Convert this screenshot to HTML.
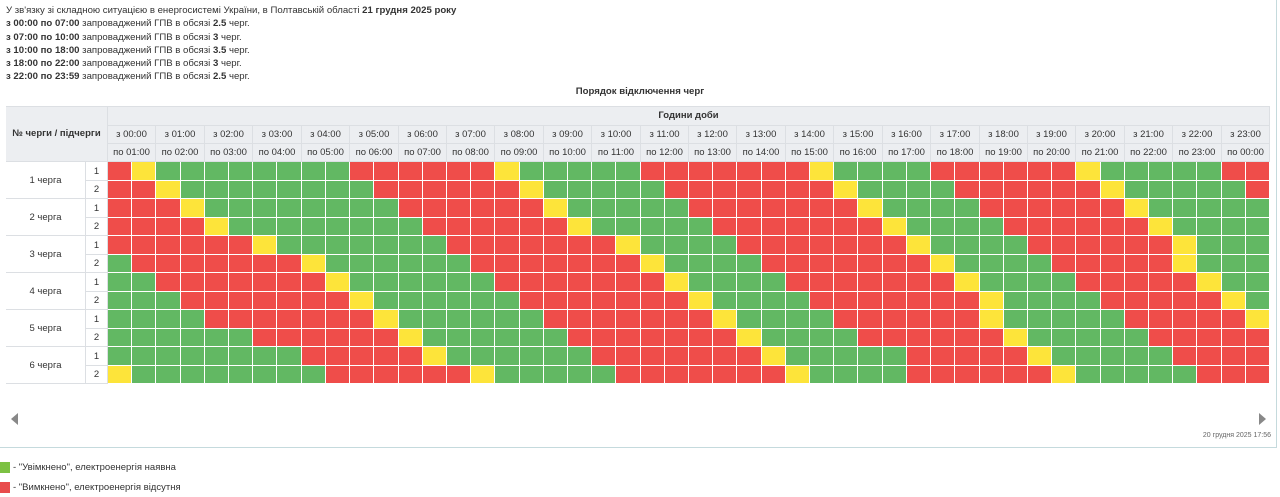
<!DOCTYPE html>
<html><head><meta charset="utf-8">
<style>
*{margin:0;padding:0;box-sizing:border-box}
body{width:1280px;height:497px;background:#fff;font-family:"Liberation Sans","DejaVu Sans",sans-serif;color:#333;position:relative;overflow:hidden}
.t{position:absolute;font-size:9.6px;white-space:nowrap;line-height:12px}
.a{position:absolute}
.hc{position:absolute;background:#eceef1;border-right:1px solid #dcdfe3;border-bottom:1px solid #dcdfe3;font-size:9.5px;text-align:center;color:#333}
.c{position:absolute;border-right:1px solid #fff;border-bottom:1px solid #fff}
.lab{position:absolute;background:#fff;border-right:1px solid #dcdfe3;border-bottom:1px solid #dcdfe3;font-size:9.5px;text-align:center}
</style></head><body>
<div class="t" style="left:6px;top:5px">У зв'язку зі складною ситуацією в енергосистемі України, в Полтавській області <b>21 грудня 2025 року</b></div>
<div class="t" style="left:6px;top:18px"><b>з 00:00 по 07:00</b> запроваджений ГПВ в обсязі <b>2.5</b> черг.</div>
<div class="t" style="left:6px;top:32px"><b>з 07:00 по 10:00</b> запроваджений ГПВ в обсязі <b>3</b> черг.</div>
<div class="t" style="left:6px;top:45px"><b>з 10:00 по 18:00</b> запроваджений ГПВ в обсязі <b>3.5</b> черг.</div>
<div class="t" style="left:6px;top:58px"><b>з 18:00 по 22:00</b> запроваджений ГПВ в обсязі <b>3</b> черг.</div>
<div class="t" style="left:6px;top:71px"><b>з 22:00 по 23:59</b> запроваджений ГПВ в обсязі <b>2.5</b> черг.</div>
<div class="t" style="left:0;width:1280px;text-align:center;top:86px;font-weight:bold">Порядок відключення черг</div>

<div class="a" style="left:1276px;top:0;width:1px;height:448px;background:#c5dadd"></div>
<div class="a" style="left:0;top:447px;width:1277px;height:1px;background:#c5dadd"></div>

<div class="a" style="left:6px;top:106px;width:1264px;height:1px;background:#dcdfe3"></div>
<div class="a" style="left:6px;top:106px;width:1px;height:278px;background:#dcdfe3"></div>
<div class="hc" style="left:6px;top:107px;width:102px;height:55px;line-height:54px;font-weight:bold">№ черги / підчерги</div>
<div class="hc" style="left:108px;top:107px;width:1162px;height:19px;line-height:18px;font-weight:bold">Години доби</div>
<div id="hdr"></div>
<div id="labs"></div>
<div id="grid"></div>

<svg class="a" style="left:10px;top:413px" width="10" height="12"><polygon points="8,0 8,12 1,6" fill="#888"/></svg>
<svg class="a" style="left:1258px;top:413px" width="10" height="12"><polygon points="1,0 1,12 8,6" fill="#888"/></svg>
<div class="t" style="right:9px;top:430px;font-size:7px;color:#666">20 грудня 2025 17:56</div>

<div class="a" style="left:0;top:462px;width:10px;height:11px;background:#7cc143"></div>
<div class="t" style="left:13px;top:462px;font-size:9.5px">- "Увімкнено", електроенергія наявна</div>
<div class="a" style="left:0;top:482px;width:10px;height:11px;background:#e84c4c"></div>
<div class="t" style="left:13px;top:482px;font-size:9.5px">- "Вимкнено", електроенергія відсутня</div>

<div style="display:none">
з 00:00 по 01:00 з 01:00 по 02:00 з 02:00 по 03:00 з 03:00 по 04:00 з 04:00 по 05:00 з 05:00 по 06:00 з 06:00 по 07:00 з 07:00 по 08:00 з 08:00 по 09:00 з 09:00 по 10:00 з 10:00 по 11:00 з 11:00 по 12:00 з 12:00 по 13:00 з 13:00 по 14:00 з 14:00 по 15:00 з 15:00 по 16:00 з 16:00 по 17:00 з 17:00 по 18:00 з 18:00 по 19:00 з 19:00 по 20:00 з 20:00 по 21:00 з 21:00 по 22:00 з 22:00 по 23:00 з 23:00 по 00:00 1 черга 2 черга 3 черга 4 черга 5 черга 6 черга
</div>
<script>
var W=1162/48,X0=108,Y0=162,RH=18.5;
function cx(c){return Math.round(X0+c*W);}
function ry(r){return Math.round(Y0+r*RH);}
var h='';
function p(n){return (n<10?'0':'')+n+':00';}
for(var i=0;i<24;i++){
 var x=cx(2*i),w=cx(2*i+2)-x;
 h+='<div class="hc" style="left:'+x+'px;top:126px;width:'+w+'px;height:18px;line-height:17px">з '+p(i)+'</div>';
 h+='<div class="hc" style="left:'+x+'px;top:144px;width:'+w+'px;height:18px;line-height:17px">по '+p((i+1)%24)+'</div>';
}
document.getElementById('hdr').innerHTML=h;
var l='';
for(var g=0;g<6;g++){
 var y=ry(2*g),y1=ry(2*g+1),y2=ry(2*g+2);
 l+='<div class="lab" style="left:6px;top:'+y+'px;width:80px;height:'+(y2-y)+'px;line-height:'+(y2-y)+'px">'+(g+1)+' черга</div>';
 l+='<div class="lab" style="left:86px;top:'+y+'px;width:22px;height:'+(y1-y)+'px;line-height:'+(y1-y)+'px">1</div>';
 l+='<div class="lab" style="left:86px;top:'+y1+'px;width:22px;height:'+(y2-y1)+'px;line-height:'+(y2-y1)+'px">2</div>';
}
document.getElementById('labs').innerHTML=l;
var rows=[
"RYGGGGGGGGRRRRRRYGGGGGRRRRRRRYGGGGRRRRRRYGGGGGRR",
"RRYGGGGGGGGRRRRRRYGGGGGRRRRRRRYGGGGRRRRRRYGGGGGR",
"RRRYGGGGGGGGRRRRRRYGGGGGRRRRRRRYGGGGRRRRRRYGGGGG",
"RRRRYGGGGGGGGRRRRRRYGGGGGRRRRRRRYGGGGRRRRRRYGGGG",
"RRRRRRYGGGGGGGRRRRRRRYGGGGRRRRRRRYGGGGRRRRRRYGGG",
"GRRRRRRRYGGGGGGRRRRRRRYGGGGRRRRRRRYGGGGRRRRRYGGG",
"GGRRRRRRRYGGGGGGRRRRRRRYGGGGRRRRRRRYGGGGRRRRRYGG",
"GGGRRRRRRRYGGGGGGRRRRRRRYGGGGRRRRRRRYGGGGRRRRRYG",
"GGGGRRRRRRRYGGGGGGRRRRRRRYGGGGRRRRRRYGGGGGRRRRRY",
"GGGGGGRRRRRRYGGGGGGRRRRRRRYGGGGRRRRRRYGGGGGRRRRR",
"GGGGGGGGRRRRRYGGGGGGRRRRRRRYGGGGGRRRRRYGGGGGRRRR",
"YGGGGGGGGRRRRRRYGGGGGRRRRRRRYGGGGRRRRRRYGGGGGRRR"];
var col={R:'#ef4d4a',G:'#62b863',Y:'#fde43a'};
var s='';
for(var r=0;r<12;r++)for(var c=0;c<48;c++){
 var x=cx(c),y=ry(r);
 s+='<div class="c" style="left:'+x+'px;top:'+y+'px;width:'+(cx(c+1)-x)+'px;height:'+(ry(r+1)-y)+'px;background:'+col[rows[r][c]]+'"></div>';
}
document.getElementById('grid').innerHTML=s;
</script>
</body></html>
